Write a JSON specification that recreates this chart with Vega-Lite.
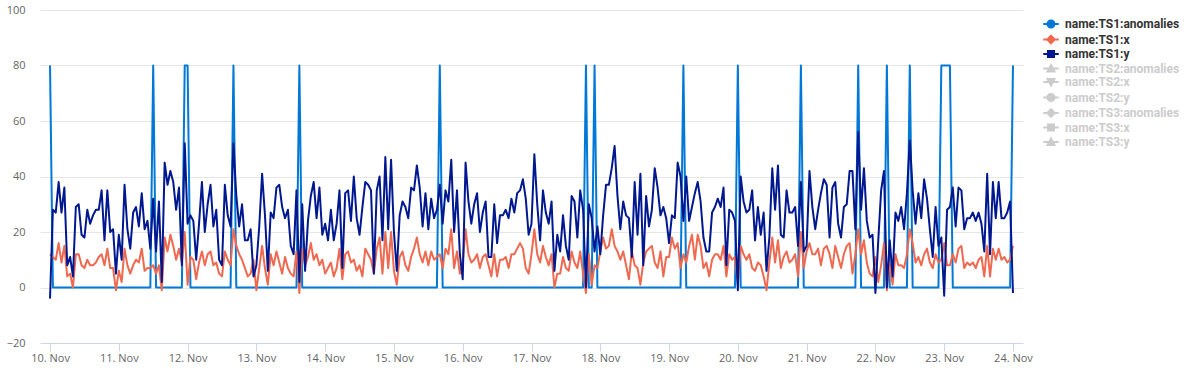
{
"$schema":"https://vega.github.io/schema/vega-lite/v6.json",
"width":983,"height":333,
"autosize":{"type":"none"},
"padding":{"left":40,"top":10,"right":168,"bottom":32},
"background":"#ffffff",
"config":{"view":{"stroke":null},"font":"Open Sans"},
"data":{"values":[
{"t":"2023-11-10T00:00","a":80,"x":12,"y":-4},{"t":"2023-11-10T01:00","a":0,"x":11,"y":28},{"t":"2023-11-10T02:00","a":0,"x":10,"y":27},{"t":"2023-11-10T03:00","a":0,"x":16,"y":38},{"t":"2023-11-10T04:00","a":0,"x":9,"y":27},{"t":"2023-11-10T05:00","a":0,"x":15,"y":36},{"t":"2023-11-10T06:00","a":0,"x":4,"y":8},{"t":"2023-11-10T07:00","a":0,"x":5,"y":11},{"t":"2023-11-10T08:00","a":0,"x":0,"y":4},{"t":"2023-11-10T09:00","a":0,"x":12,"y":29},{"t":"2023-11-10T10:00","a":0,"x":12,"y":30},{"t":"2023-11-10T11:00","a":0,"x":8,"y":19},{"t":"2023-11-10T12:00","a":0,"x":7,"y":18},{"t":"2023-11-10T13:00","a":0,"x":10,"y":28},{"t":"2023-11-10T14:00","a":0,"x":8,"y":23},{"t":"2023-11-10T15:00","a":0,"x":8,"y":26},{"t":"2023-11-10T16:00","a":0,"x":9,"y":28},{"t":"2023-11-10T17:00","a":0,"x":11,"y":28},{"t":"2023-11-10T18:00","a":0,"x":12,"y":35},{"t":"2023-11-10T19:00","a":0,"x":8,"y":17},{"t":"2023-11-10T20:00","a":0,"x":14,"y":35},{"t":"2023-11-10T21:00","a":0,"x":7,"y":20},{"t":"2023-11-10T22:00","a":0,"x":7,"y":21},{"t":"2023-11-10T23:00","a":0,"x":-1,"y":5},
{"t":"2023-11-11T00:00","a":0,"x":6,"y":19},{"t":"2023-11-11T01:00","a":0,"x":2,"y":10},{"t":"2023-11-11T02:00","a":0,"x":14,"y":37},{"t":"2023-11-11T03:00","a":0,"x":8,"y":21},{"t":"2023-11-11T04:00","a":0,"x":5,"y":14},{"t":"2023-11-11T05:00","a":0,"x":8,"y":27},{"t":"2023-11-11T06:00","a":0,"x":10,"y":29},{"t":"2023-11-11T07:00","a":0,"x":9,"y":22},{"t":"2023-11-11T08:00","a":0,"x":14,"y":34},{"t":"2023-11-11T09:00","a":0,"x":6,"y":21},{"t":"2023-11-11T10:00","a":0,"x":7,"y":24},{"t":"2023-11-11T11:00","a":0,"x":7,"y":14},{"t":"2023-11-11T12:00","a":80,"x":8,"y":32},{"t":"2023-11-11T13:00","a":0,"x":5,"y":13},{"t":"2023-11-11T14:00","a":0,"x":8,"y":31},{"t":"2023-11-11T15:00","a":0,"x":-1,"y":2},{"t":"2023-11-11T16:00","a":0,"x":18,"y":45},{"t":"2023-11-11T17:00","a":0,"x":13,"y":37},{"t":"2023-11-11T18:00","a":0,"x":19,"y":42},{"t":"2023-11-11T19:00","a":0,"x":15,"y":38},{"t":"2023-11-11T20:00","a":0,"x":10,"y":28},{"t":"2023-11-11T21:00","a":0,"x":14,"y":36},{"t":"2023-11-11T22:00","a":0,"x":9,"y":8},{"t":"2023-11-11T23:00","a":80,"x":20,"y":52},
{"t":"2023-11-12T00:00","a":80,"x":1,"y":23},{"t":"2023-11-12T01:00","a":0,"x":11,"y":26},{"t":"2023-11-12T02:00","a":0,"x":10,"y":24},{"t":"2023-11-12T03:00","a":0,"x":3,"y":10},{"t":"2023-11-12T04:00","a":0,"x":9,"y":23},{"t":"2023-11-12T05:00","a":0,"x":13,"y":38},{"t":"2023-11-12T06:00","a":0,"x":8,"y":20},{"t":"2023-11-12T07:00","a":0,"x":12,"y":30},{"t":"2023-11-12T08:00","a":0,"x":13,"y":37},{"t":"2023-11-12T09:00","a":0,"x":8,"y":22},{"t":"2023-11-12T10:00","a":0,"x":9,"y":28},{"t":"2023-11-12T11:00","a":0,"x":5,"y":10},{"t":"2023-11-12T12:00","a":0,"x":4,"y":8},{"t":"2023-11-12T13:00","a":0,"x":13,"y":37},{"t":"2023-11-12T14:00","a":0,"x":10,"y":26},{"t":"2023-11-12T15:00","a":0,"x":8,"y":22},{"t":"2023-11-12T16:00","a":80,"x":21,"y":52},{"t":"2023-11-12T17:00","a":0,"x":15,"y":33},{"t":"2023-11-12T18:00","a":0,"x":12,"y":22},{"t":"2023-11-12T19:00","a":0,"x":10,"y":30},{"t":"2023-11-12T20:00","a":0,"x":7,"y":17},{"t":"2023-11-12T21:00","a":0,"x":4,"y":17},{"t":"2023-11-12T22:00","a":0,"x":5,"y":21},{"t":"2023-11-12T23:00","a":0,"x":10,"y":4},
{"t":"2023-11-13T00:00","a":0,"x":-1,"y":8},{"t":"2023-11-13T01:00","a":0,"x":7,"y":22},{"t":"2023-11-13T02:00","a":0,"x":15,"y":41},{"t":"2023-11-13T03:00","a":0,"x":7,"y":26},{"t":"2023-11-13T04:00","a":0,"x":1,"y":6},{"t":"2023-11-13T05:00","a":0,"x":12,"y":27},{"t":"2023-11-13T06:00","a":0,"x":8,"y":25},{"t":"2023-11-13T07:00","a":0,"x":13,"y":36},{"t":"2023-11-13T08:00","a":0,"x":9,"y":37},{"t":"2023-11-13T09:00","a":0,"x":5,"y":29},{"t":"2023-11-13T10:00","a":0,"x":11,"y":25},{"t":"2023-11-13T11:00","a":0,"x":7,"y":28},{"t":"2023-11-13T12:00","a":0,"x":5,"y":15},{"t":"2023-11-13T13:00","a":0,"x":4,"y":12},{"t":"2023-11-13T14:00","a":0,"x":13,"y":35},{"t":"2023-11-13T15:00","a":80,"x":-2,"y":2},{"t":"2023-11-13T16:00","a":0,"x":14,"y":30},{"t":"2023-11-13T17:00","a":0,"x":8,"y":6},{"t":"2023-11-13T18:00","a":0,"x":11,"y":24},{"t":"2023-11-13T19:00","a":0,"x":16,"y":33},{"t":"2023-11-13T20:00","a":0,"x":10,"y":38},{"t":"2023-11-13T21:00","a":0,"x":12,"y":25},{"t":"2023-11-13T22:00","a":0,"x":8,"y":36},{"t":"2023-11-13T23:00","a":0,"x":10,"y":19},
{"t":"2023-11-14T00:00","a":0,"x":5,"y":23},{"t":"2023-11-14T01:00","a":0,"x":7,"y":17},{"t":"2023-11-14T02:00","a":0,"x":9,"y":28},{"t":"2023-11-14T03:00","a":0,"x":4,"y":17},{"t":"2023-11-14T04:00","a":0,"x":7,"y":23},{"t":"2023-11-14T05:00","a":0,"x":14,"y":35},{"t":"2023-11-14T06:00","a":0,"x":3,"y":7},{"t":"2023-11-14T07:00","a":0,"x":12,"y":34},{"t":"2023-11-14T08:00","a":0,"x":13,"y":35},{"t":"2023-11-14T09:00","a":0,"x":9,"y":24},{"t":"2023-11-14T10:00","a":0,"x":10,"y":40},{"t":"2023-11-14T11:00","a":0,"x":6,"y":25},{"t":"2023-11-14T12:00","a":0,"x":8,"y":19},{"t":"2023-11-14T13:00","a":0,"x":4,"y":29},{"t":"2023-11-14T14:00","a":0,"x":14,"y":38},{"t":"2023-11-14T15:00","a":0,"x":12,"y":37},{"t":"2023-11-14T16:00","a":0,"x":10,"y":35},{"t":"2023-11-14T17:00","a":0,"x":5,"y":5},{"t":"2023-11-14T18:00","a":0,"x":14,"y":35},{"t":"2023-11-14T19:00","a":0,"x":18,"y":40},{"t":"2023-11-14T20:00","a":0,"x":5,"y":17},{"t":"2023-11-14T21:00","a":0,"x":20,"y":47},{"t":"2023-11-14T22:00","a":0,"x":7,"y":21},{"t":"2023-11-14T23:00","a":0,"x":20,"y":46},
{"t":"2023-11-15T00:00","a":0,"x":6,"y":20},{"t":"2023-11-15T01:00","a":0,"x":1,"y":6},{"t":"2023-11-15T02:00","a":0,"x":11,"y":26},{"t":"2023-11-15T03:00","a":0,"x":13,"y":31},{"t":"2023-11-15T04:00","a":0,"x":8,"y":29},{"t":"2023-11-15T05:00","a":0,"x":6,"y":25},{"t":"2023-11-15T06:00","a":0,"x":11,"y":36},{"t":"2023-11-15T07:00","a":0,"x":14,"y":35},{"t":"2023-11-15T08:00","a":0,"x":18,"y":44},{"t":"2023-11-15T09:00","a":0,"x":12,"y":36},{"t":"2023-11-15T10:00","a":0,"x":9,"y":22},{"t":"2023-11-15T11:00","a":0,"x":13,"y":34},{"t":"2023-11-15T12:00","a":0,"x":8,"y":21},{"t":"2023-11-15T13:00","a":0,"x":13,"y":32},{"t":"2023-11-15T14:00","a":0,"x":10,"y":25},{"t":"2023-11-15T15:00","a":0,"x":11,"y":28},{"t":"2023-11-15T16:00","a":80,"x":12,"y":37},{"t":"2023-11-15T17:00","a":0,"x":7,"y":23},{"t":"2023-11-15T18:00","a":0,"x":14,"y":35},{"t":"2023-11-15T19:00","a":0,"x":12,"y":31},{"t":"2023-11-15T20:00","a":0,"x":21,"y":46},{"t":"2023-11-15T21:00","a":0,"x":7,"y":20},{"t":"2023-11-15T22:00","a":0,"x":13,"y":35},{"t":"2023-11-15T23:00","a":0,"x":5,"y":12},
{"t":"2023-11-16T00:00","a":0,"x":9,"y":3},{"t":"2023-11-16T01:00","a":0,"x":21,"y":45},{"t":"2023-11-16T02:00","a":0,"x":12,"y":31},{"t":"2023-11-16T03:00","a":0,"x":9,"y":23},{"t":"2023-11-16T04:00","a":0,"x":10,"y":30},{"t":"2023-11-16T05:00","a":0,"x":12,"y":34},{"t":"2023-11-16T06:00","a":0,"x":7,"y":20},{"t":"2023-11-16T07:00","a":0,"x":11,"y":27},{"t":"2023-11-16T08:00","a":0,"x":12,"y":31},{"t":"2023-11-16T09:00","a":0,"x":8,"y":11},{"t":"2023-11-16T10:00","a":0,"x":4,"y":11},{"t":"2023-11-16T11:00","a":0,"x":12,"y":30},{"t":"2023-11-16T12:00","a":0,"x":4,"y":16},{"t":"2023-11-16T13:00","a":0,"x":10,"y":26},{"t":"2023-11-16T14:00","a":0,"x":10,"y":26},{"t":"2023-11-16T15:00","a":0,"x":11,"y":28},{"t":"2023-11-16T16:00","a":0,"x":7,"y":25},{"t":"2023-11-16T17:00","a":0,"x":12,"y":32},{"t":"2023-11-16T18:00","a":0,"x":12,"y":27},{"t":"2023-11-16T19:00","a":0,"x":14,"y":34},{"t":"2023-11-16T20:00","a":0,"x":16,"y":35},{"t":"2023-11-16T21:00","a":0,"x":14,"y":39},{"t":"2023-11-16T22:00","a":0,"x":7,"y":32},{"t":"2023-11-16T23:00","a":0,"x":5,"y":19},
{"t":"2023-11-17T00:00","a":0,"x":12,"y":23},{"t":"2023-11-17T01:00","a":0,"x":21,"y":48},{"t":"2023-11-17T02:00","a":0,"x":12,"y":30},{"t":"2023-11-17T03:00","a":0,"x":9,"y":17},{"t":"2023-11-17T04:00","a":0,"x":15,"y":35},{"t":"2023-11-17T05:00","a":0,"x":11,"y":27},{"t":"2023-11-17T06:00","a":0,"x":8,"y":23},{"t":"2023-11-17T07:00","a":0,"x":12,"y":31},{"t":"2023-11-17T08:00","a":0,"x":0,"y":6},{"t":"2023-11-17T09:00","a":0,"x":5,"y":19},{"t":"2023-11-17T10:00","a":0,"x":5,"y":13},{"t":"2023-11-17T11:00","a":0,"x":11,"y":26},{"t":"2023-11-17T12:00","a":0,"x":7,"y":15},{"t":"2023-11-17T13:00","a":0,"x":6,"y":10},{"t":"2023-11-17T14:00","a":0,"x":13,"y":33},{"t":"2023-11-17T15:00","a":0,"x":9,"y":31},{"t":"2023-11-17T16:00","a":0,"x":7,"y":18},{"t":"2023-11-17T17:00","a":0,"x":13,"y":35},{"t":"2023-11-17T18:00","a":0,"x":5,"y":28},{"t":"2023-11-17T19:00","a":80,"x":-2,"y":0},{"t":"2023-11-17T20:00","a":0,"x":12,"y":30},{"t":"2023-11-17T21:00","a":0,"x":1,"y":25},{"t":"2023-11-17T22:00","a":80,"x":8,"y":13},{"t":"2023-11-17T23:00","a":0,"x":7,"y":22},
{"t":"2023-11-18T00:00","a":0,"x":13,"y":12},{"t":"2023-11-18T01:00","a":0,"x":18,"y":26},{"t":"2023-11-18T02:00","a":0,"x":14,"y":37},{"t":"2023-11-18T03:00","a":0,"x":15,"y":37},{"t":"2023-11-18T04:00","a":0,"x":21,"y":43},{"t":"2023-11-18T05:00","a":0,"x":15,"y":51},{"t":"2023-11-18T06:00","a":0,"x":13,"y":33},{"t":"2023-11-18T07:00","a":0,"x":10,"y":21},{"t":"2023-11-18T08:00","a":0,"x":13,"y":31},{"t":"2023-11-18T09:00","a":0,"x":8,"y":26},{"t":"2023-11-18T10:00","a":0,"x":3,"y":25},{"t":"2023-11-18T11:00","a":0,"x":13,"y":11},{"t":"2023-11-18T12:00","a":0,"x":8,"y":38},{"t":"2023-11-18T13:00","a":0,"x":7,"y":19},{"t":"2023-11-18T14:00","a":0,"x":1,"y":41},{"t":"2023-11-18T15:00","a":0,"x":9,"y":8},{"t":"2023-11-18T16:00","a":0,"x":13,"y":33},{"t":"2023-11-18T17:00","a":0,"x":14,"y":22},{"t":"2023-11-18T18:00","a":0,"x":15,"y":28},{"t":"2023-11-18T19:00","a":0,"x":9,"y":43},{"t":"2023-11-18T20:00","a":0,"x":7,"y":36},{"t":"2023-11-18T21:00","a":0,"x":13,"y":26},{"t":"2023-11-18T22:00","a":0,"x":4,"y":29},{"t":"2023-11-18T23:00","a":0,"x":11,"y":25},
{"t":"2023-11-19T00:00","a":0,"x":11,"y":16},{"t":"2023-11-19T01:00","a":0,"x":18,"y":26},{"t":"2023-11-19T02:00","a":0,"x":14,"y":25},{"t":"2023-11-19T03:00","a":0,"x":16,"y":45},{"t":"2023-11-19T04:00","a":0,"x":7,"y":40},{"t":"2023-11-19T05:00","a":80,"x":12,"y":24},{"t":"2023-11-19T06:00","a":0,"x":9,"y":40},{"t":"2023-11-19T07:00","a":0,"x":15,"y":24},{"t":"2023-11-19T08:00","a":0,"x":19,"y":29},{"t":"2023-11-19T09:00","a":0,"x":10,"y":34},{"t":"2023-11-19T10:00","a":0,"x":19,"y":38},{"t":"2023-11-19T11:00","a":0,"x":15,"y":31},{"t":"2023-11-19T12:00","a":0,"x":7,"y":18},{"t":"2023-11-19T13:00","a":0,"x":9,"y":13},{"t":"2023-11-19T14:00","a":0,"x":4,"y":13},{"t":"2023-11-19T15:00","a":0,"x":10,"y":27},{"t":"2023-11-19T16:00","a":0,"x":12,"y":29},{"t":"2023-11-19T17:00","a":0,"x":12,"y":32},{"t":"2023-11-19T18:00","a":0,"x":10,"y":29},{"t":"2023-11-19T19:00","a":0,"x":15,"y":36},{"t":"2023-11-19T20:00","a":0,"x":4,"y":8},{"t":"2023-11-19T21:00","a":0,"x":12,"y":28},{"t":"2023-11-19T22:00","a":0,"x":10,"y":27},{"t":"2023-11-19T23:00","a":0,"x":11,"y":24},
{"t":"2023-11-20T00:00","a":80,"x":1,"y":-1},{"t":"2023-11-20T01:00","a":0,"x":15,"y":40},{"t":"2023-11-20T02:00","a":0,"x":12,"y":31},{"t":"2023-11-20T03:00","a":0,"x":10,"y":27},{"t":"2023-11-20T04:00","a":0,"x":12,"y":28},{"t":"2023-11-20T05:00","a":0,"x":7,"y":35},{"t":"2023-11-20T06:00","a":0,"x":6,"y":17},{"t":"2023-11-20T07:00","a":0,"x":9,"y":29},{"t":"2023-11-20T08:00","a":0,"x":8,"y":19},{"t":"2023-11-20T09:00","a":0,"x":4,"y":27},{"t":"2023-11-20T10:00","a":0,"x":-1,"y":6},{"t":"2023-11-20T11:00","a":0,"x":9,"y":18},{"t":"2023-11-20T12:00","a":0,"x":18,"y":43},{"t":"2023-11-20T13:00","a":0,"x":9,"y":28},{"t":"2023-11-20T14:00","a":0,"x":17,"y":44},{"t":"2023-11-20T15:00","a":0,"x":7,"y":19},{"t":"2023-11-20T16:00","a":0,"x":11,"y":18},{"t":"2023-11-20T17:00","a":0,"x":13,"y":35},{"t":"2023-11-20T18:00","a":0,"x":9,"y":27},{"t":"2023-11-20T19:00","a":0,"x":10,"y":27},{"t":"2023-11-20T20:00","a":0,"x":12,"y":29},{"t":"2023-11-20T21:00","a":0,"x":4,"y":15},{"t":"2023-11-20T22:00","a":80,"x":20,"y":38},{"t":"2023-11-20T23:00","a":0,"x":7,"y":13},
{"t":"2023-11-21T00:00","a":0,"x":13,"y":15},{"t":"2023-11-21T01:00","a":0,"x":16,"y":42},{"t":"2023-11-21T02:00","a":0,"x":12,"y":29},{"t":"2023-11-21T03:00","a":0,"x":12,"y":21},{"t":"2023-11-21T04:00","a":0,"x":14,"y":28},{"t":"2023-11-21T05:00","a":0,"x":8,"y":34},{"t":"2023-11-21T06:00","a":0,"x":14,"y":39},{"t":"2023-11-21T07:00","a":0,"x":15,"y":37},{"t":"2023-11-21T08:00","a":0,"x":12,"y":18},{"t":"2023-11-21T09:00","a":0,"x":7,"y":36},{"t":"2023-11-21T10:00","a":0,"x":15,"y":38},{"t":"2023-11-21T11:00","a":0,"x":11,"y":23},{"t":"2023-11-21T12:00","a":0,"x":7,"y":18},{"t":"2023-11-21T13:00","a":0,"x":12,"y":29},{"t":"2023-11-21T14:00","a":0,"x":15,"y":30},{"t":"2023-11-21T15:00","a":0,"x":16,"y":42},{"t":"2023-11-21T16:00","a":0,"x":5,"y":42},{"t":"2023-11-21T17:00","a":0,"x":12,"y":21},{"t":"2023-11-21T18:00","a":80,"x":21,"y":56},{"t":"2023-11-21T19:00","a":0,"x":12,"y":28},{"t":"2023-11-21T20:00","a":0,"x":17,"y":43},{"t":"2023-11-21T21:00","a":0,"x":9,"y":24},{"t":"2023-11-21T22:00","a":0,"x":5,"y":18},{"t":"2023-11-21T23:00","a":0,"x":4,"y":19},
{"t":"2023-11-22T00:00","a":0,"x":11,"y":-2},{"t":"2023-11-22T01:00","a":0,"x":2,"y":17},{"t":"2023-11-22T02:00","a":0,"x":8,"y":35},{"t":"2023-11-22T03:00","a":0,"x":16,"y":42},{"t":"2023-11-22T04:00","a":80,"x":-1,"y":0},{"t":"2023-11-22T05:00","a":0,"x":9,"y":17},{"t":"2023-11-22T06:00","a":0,"x":1,"y":4},{"t":"2023-11-22T07:00","a":0,"x":12,"y":27},{"t":"2023-11-22T08:00","a":0,"x":8,"y":24},{"t":"2023-11-22T09:00","a":0,"x":8,"y":29},{"t":"2023-11-22T10:00","a":0,"x":7,"y":21},{"t":"2023-11-22T11:00","a":0,"x":12,"y":34},{"t":"2023-11-22T12:00","a":80,"x":21,"y":53},{"t":"2023-11-22T13:00","a":0,"x":16,"y":35},{"t":"2023-11-22T14:00","a":0,"x":9,"y":23},{"t":"2023-11-22T15:00","a":0,"x":11,"y":34},{"t":"2023-11-22T16:00","a":0,"x":8,"y":25},{"t":"2023-11-22T17:00","a":0,"x":12,"y":39},{"t":"2023-11-22T18:00","a":0,"x":14,"y":32},{"t":"2023-11-22T19:00","a":0,"x":9,"y":21},{"t":"2023-11-22T20:00","a":0,"x":7,"y":11},{"t":"2023-11-22T21:00","a":0,"x":12,"y":29},{"t":"2023-11-22T22:00","a":0,"x":9,"y":15},{"t":"2023-11-22T23:00","a":80,"x":10,"y":18},
{"t":"2023-11-23T00:00","a":80,"x":16,"y":-3},{"t":"2023-11-23T01:00","a":80,"x":8,"y":28},{"t":"2023-11-23T02:00","a":80,"x":8,"y":29},{"t":"2023-11-23T03:00","a":0,"x":12,"y":36},{"t":"2023-11-23T04:00","a":0,"x":9,"y":22},{"t":"2023-11-23T05:00","a":0,"x":14,"y":36},{"t":"2023-11-23T06:00","a":0,"x":15,"y":35},{"t":"2023-11-23T07:00","a":0,"x":7,"y":21},{"t":"2023-11-23T08:00","a":0,"x":9,"y":25},{"t":"2023-11-23T09:00","a":0,"x":8,"y":25},{"t":"2023-11-23T10:00","a":0,"x":9,"y":27},{"t":"2023-11-23T11:00","a":0,"x":7,"y":24},{"t":"2023-11-23T12:00","a":0,"x":10,"y":27},{"t":"2023-11-23T13:00","a":0,"x":11,"y":23},{"t":"2023-11-23T14:00","a":0,"x":4,"y":13},{"t":"2023-11-23T15:00","a":0,"x":15,"y":41},{"t":"2023-11-23T16:00","a":0,"x":4,"y":12},{"t":"2023-11-23T17:00","a":0,"x":14,"y":38},{"t":"2023-11-23T18:00","a":0,"x":10,"y":25},{"t":"2023-11-23T19:00","a":0,"x":14,"y":38},{"t":"2023-11-23T20:00","a":0,"x":10,"y":25},{"t":"2023-11-23T21:00","a":0,"x":11,"y":25},{"t":"2023-11-23T22:00","a":0,"x":9,"y":27},{"t":"2023-11-23T23:00","a":0,"x":10,"y":31},
{"t":"2023-11-24T00:00","a":80,"x":15,"y":-2}
]},
"encoding":{
"x":{"field":"t","type":"temporal",
"scale":{"domain":[{"year":2023,"month":11,"date":9,"hours":20,"minutes":30},{"year":2023,"month":11,"date":24,"hours":3,"minutes":30}]},
"axis":{"title":null,"format":"%-d. %b","tickCount":{"interval":"day","step":1},"grid":false,"domainColor":"#ccd6eb","tickColor":"#ccd6eb","tickSize":8,"labelPadding":1,"labelColor":"#666666","labelFontSize":11,"labelFont":"Open Sans","labelFlush":false,"labelOverlap":false}}
},
"layer":[
{"mark":{"type":"line","strokeWidth":2,"strokeJoin":"round"},
"encoding":{
"y":{"field":"a","type":"quantitative","scale":{"domain":[-20,100],"nice":false,"zero":false},
"axis":{"title":null,"values":[-20,0,20,40,60,80,100],"grid":true,"gridColor":"#e6e6e6","domain":false,"ticks":false,"labelColor":"#666666","labelFontSize":11,"labelFont":"Open Sans","labelPadding":15}},
"color":{"datum":"name:TS1:anomalies","type":"nominal",
"scale":{"domain":["name:TS1:anomalies","name:TS1:x","name:TS1:y","name:TS2:anomalies","name:TS2:x","name:TS2:y","name:TS3:anomalies","name:TS3:x","name:TS3:y"],
"range":["#0078d7","#ef6950","#00188f","#cccccc","#cccccc","#cccccc","#cccccc","#cccccc","#cccccc"]},
"legend":{"title":null,"orient":"none","legendX":1005,"legendY":8,"padding":0,"labelFontSize":12,"labelFontWeight":"bold","labelFont":"Roboto","symbolSize":100,"symbolStrokeWidth":2,"rowPadding":-0.5,"labelOffset":8,
"encode":{
"symbols":{"update":{
"shape":{"signal":"['M-1.55,0H1.55M-0.7,0A0.7,0.7 0 1,0 0.7,0A0.7,0.7 0 1,0 -0.7,0Z','M-1.55,0H1.55M0,-0.75L0.75,0L0,0.75L-0.75,0Z','M-1.55,0H1.55M-0.6,-0.6H0.6V0.6H-0.6Z','M-1.55,0H1.55M0,-0.7L0.7,0.6H-0.7Z','M-1.55,0H1.55M-0.7,-0.6H0.7L0,0.7Z','M-1.55,0H1.55M-0.7,0A0.7,0.7 0 1,0 0.7,0A0.7,0.7 0 1,0 -0.7,0Z','M-1.55,0H1.55M0,-0.75L0.75,0L0,0.75L-0.75,0Z','M-1.55,0H1.55M-0.6,-0.6H0.6V0.6H-0.6Z','M-1.55,0H1.55M0,-0.7L0.7,0.6H-0.7Z'][datum.index]"},
"fill":{"scale":"color","field":"value"},
"stroke":{"scale":"color","field":"value"},
"strokeWidth":{"value":2},
"opacity":{"value":1},"fillOpacity":{"value":1},"strokeOpacity":{"value":1}}},
"labels":{"update":{"fill":{"signal":"datum.index < 3 ? '#333333' : '#cccccc'"}}}
}}}
}},
{"mark":{"type":"line","strokeWidth":2,"strokeJoin":"round"},
"encoding":{"y":{"field":"x","type":"quantitative","axis":{"title":null,"values":[-20,0,20,40,60,80,100],"grid":true,"gridColor":"#e6e6e6","domain":false,"ticks":false,"labelColor":"#666666","labelFontSize":11,"labelFont":"Open Sans","labelPadding":15}},"color":{"datum":"name:TS1:x","type":"nominal"}}},
{"mark":{"type":"line","strokeWidth":2,"strokeJoin":"round"},
"encoding":{"y":{"field":"y","type":"quantitative","axis":{"title":null,"values":[-20,0,20,40,60,80,100],"grid":true,"gridColor":"#e6e6e6","domain":false,"ticks":false,"labelColor":"#666666","labelFontSize":11,"labelFont":"Open Sans","labelPadding":15}},"color":{"datum":"name:TS1:y","type":"nominal"}}}
]
}
